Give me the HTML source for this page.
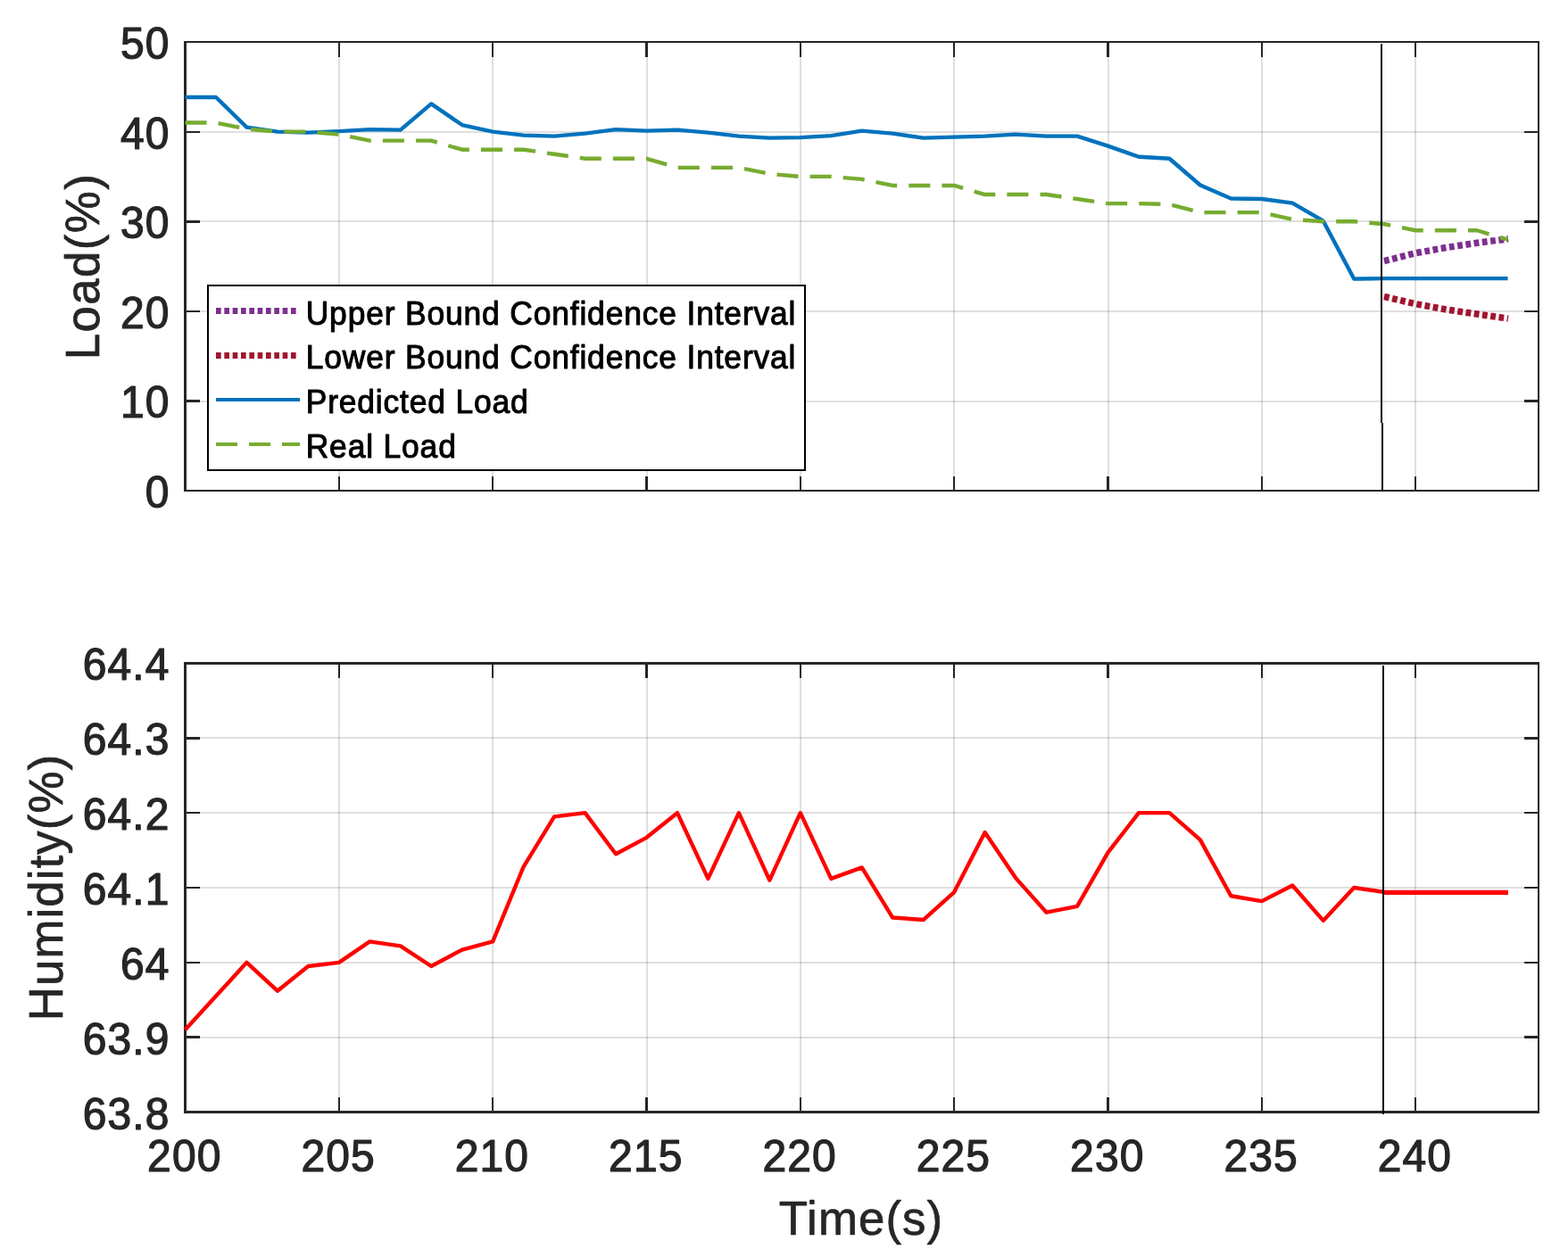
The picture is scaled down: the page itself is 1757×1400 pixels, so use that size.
<!DOCTYPE html>
<html lang="en"><head><meta charset="utf-8"><title>Load and Humidity</title>
<style>html,body{margin:0;padding:0;background:#fff}body{width:1757px;height:1400px;overflow:hidden}svg{display:block}text{font-family:"Liberation Sans",sans-serif;stroke-linejoin:round}.tk{font-size:48px;letter-spacing:1.1px;fill:#262626;stroke:#262626;stroke-width:1.2px}.lb{font-size:52.8px;letter-spacing:1.1px;fill:#262626;stroke:#262626;stroke-width:.7px}.lg{font-size:35.4px;letter-spacing:.85px;fill:#000;stroke:#000;stroke-width:1px}.cr{shape-rendering:crispEdges}</style>
</head><body>
<svg width="1757" height="1400" viewBox="0 0 1757 1400">
<rect width="1757" height="1400" fill="#fff"/>
<g class="cr" fill="#262626" fill-opacity=".15">
<rect x="379" y="47" width="2" height="503"/>
<rect x="551" y="47" width="2" height="503"/>
<rect x="724" y="47" width="2" height="503"/>
<rect x="896" y="47" width="2" height="503"/>
<rect x="1068" y="47" width="2" height="503"/>
<rect x="1241" y="47" width="2" height="503"/>
<rect x="1413" y="47" width="2" height="503"/>
<rect x="1585" y="47" width="2" height="503"/>
<rect x="208" y="449" width="1516" height="2"/>
<rect x="208" y="348" width="1516" height="2"/>
<rect x="208" y="247" width="1516" height="2"/>
<rect x="208" y="147" width="1516" height="2"/>
</g>
<polyline points="1550.97,292.56 1586.14,283.71 1620.60,277.47 1655.07,272.24 1689.93,267.82" fill="none" stroke="#7E2F8E" stroke-width="7.5" stroke-dasharray="5.8 3.53" stroke-linejoin="round"/>
<polyline points="1550.97,332.40 1586.14,340.65 1620.60,346.99 1655.07,352.02 1689.93,357.05" fill="none" stroke="#A2142F" stroke-width="7.5" stroke-dasharray="5.8 3.53" stroke-linejoin="round"/>
<g class="cr" fill="#262626">
<rect x="379" y="48" width="2" height="16"/>
<rect x="379" y="534" width="2" height="15"/>
<rect x="551" y="48" width="2" height="16"/>
<rect x="551" y="534" width="2" height="15"/>
<rect x="723" y="48" width="3" height="16"/>
<rect x="723" y="534" width="3" height="15"/>
<rect x="896" y="48" width="2" height="16"/>
<rect x="896" y="534" width="2" height="15"/>
<rect x="1068" y="48" width="2" height="16"/>
<rect x="1068" y="534" width="2" height="15"/>
<rect x="1240" y="48" width="3" height="16"/>
<rect x="1240" y="534" width="3" height="15"/>
<rect x="1413" y="48" width="2" height="16"/>
<rect x="1413" y="534" width="2" height="15"/>
<rect x="1585" y="48" width="2" height="16"/>
<rect x="1585" y="534" width="2" height="15"/>
<rect x="209" y="448" width="15" height="3"/>
<rect x="1708" y="448" width="15" height="3"/>
<rect x="209" y="348" width="15" height="2"/>
<rect x="1708" y="348" width="15" height="2"/>
<rect x="209" y="247" width="15" height="3"/>
<rect x="1708" y="247" width="15" height="3"/>
<rect x="209" y="147" width="15" height="2"/>
<rect x="1708" y="147" width="15" height="2"/>
<rect x="206" y="46" width="3" height="505"/>
<rect x="1723" y="46" width="2" height="505"/>
<rect x="206" y="46" width="1519" height="2"/>
<rect x="206" y="549" width="1519" height="2"/>
</g>
<polyline points="207.50,108.97 241.97,108.97 276.43,142.57 310.90,147.60 345.36,148.61 379.83,147.10 414.30,145.08 448.76,145.59 483.23,116.41 517.69,140.06 552.16,147.60 586.62,151.62 621.09,152.63 655.56,149.61 690.02,145.08 724.49,146.59 758.95,145.59 793.42,148.61 827.89,152.63 862.35,154.64 896.82,154.14 931.28,152.13 965.75,146.59 1000.22,149.61 1034.68,154.64 1069.15,153.64 1103.61,152.63 1138.08,150.62 1172.55,152.63 1207.01,152.63 1241.48,163.70 1275.94,175.77 1310.41,177.78 1344.88,207.46 1379.34,222.55 1413.81,223.05 1448.27,227.58 1482.74,247.70 1517.20,312.58 1551.67,312.08 1586.14,312.08 1620.60,312.08 1655.07,312.08 1689.53,312.08" fill="none" stroke="#0072BD" stroke-width="4.4" stroke-linejoin="round"/>
<polyline points="207.50,137.54 241.97,137.54 276.43,144.58 310.90,147.60 345.36,147.60 379.83,150.62 414.30,157.66 448.76,157.66 483.23,157.66 517.69,167.72 552.16,167.72 586.62,167.72 621.09,172.75 655.56,177.78 690.02,177.78 724.49,177.78 758.95,187.84 793.42,187.84 827.89,187.84 862.35,194.88 896.82,197.90 931.28,197.90 965.75,200.92 1000.22,207.96 1034.68,207.96 1069.15,207.96 1103.61,218.02 1138.08,218.02 1172.55,218.02 1207.01,223.05 1241.48,228.08 1275.94,228.08 1310.41,229.09 1344.88,238.14 1379.34,238.14 1413.81,238.14 1448.27,245.99 1482.74,248.20 1517.20,248.20 1551.67,251.22 1586.14,258.26 1620.60,258.26 1655.07,258.26 1689.53,268.62" fill="none" stroke="#77AC30" stroke-width="4.4" stroke-dasharray="24.1 13.07" stroke-linejoin="round"/>
<g class="cr">
<rect x="1547" y="49" width="2" height="424.5" fill="#000"/>
<rect x="1548" y="473.5" width="2" height="77.5" fill="#000"/>
</g>
<text class="tk" transform="translate(190.60 569.20) scale(1 1.025)" text-anchor="end">0</text>
<text class="tk" transform="translate(190.60 468.20) scale(1 1.025)" text-anchor="end">10</text>
<text class="tk" transform="translate(190.60 368.20) scale(1 1.025)" text-anchor="end">20</text>
<text class="tk" transform="translate(190.60 267.20) scale(1 1.025)" text-anchor="end">30</text>
<text class="tk" transform="translate(190.60 167.20) scale(1 1.025)" text-anchor="end">40</text>
<text class="tk" transform="translate(190.60 66.20) scale(1 1.025)" text-anchor="end">50</text>
<text class="lb" style="letter-spacing:1.4px" transform="translate(111.3 298.5) rotate(-90) scale(1 1.03)" text-anchor="middle">Load(%)</text>
<g class="cr">
<rect x="232" y="319" width="671" height="209" fill="#000"/>
<rect x="234" y="321" width="667" height="205" fill="#fff"/>
</g>
<line x1="242" y1="348.5" x2="332" y2="348.5" stroke="#7E2F8E" stroke-width="7" stroke-dasharray="5.67 3.66"/>
<line x1="242" y1="398.5" x2="332" y2="398.5" stroke="#A2142F" stroke-width="7" stroke-dasharray="5.67 3.66"/>
<line x1="242" y1="448.0" x2="336" y2="448.0" stroke="#0072BD" stroke-width="4"/>
<line x1="242" y1="498.0" x2="336" y2="498.0" stroke="#77AC30" stroke-width="4" stroke-dasharray="24 13"/>
<text class="lg" transform="translate(342.7 363.5) scale(1 1.05)">Upper Bound Confidence Interval</text>
<text class="lg" transform="translate(342.7 413.2) scale(1 1.05)">Lower Bound Confidence Interval</text>
<text class="lg" transform="translate(342.7 463.0) scale(1 1.05)">Predicted Load</text>
<text class="lg" transform="translate(342.7 512.9) scale(1 1.05)">Real Load</text>
<g class="cr" fill="#262626" fill-opacity=".15">
<rect x="379" y="743.5" width="2" height="503"/>
<rect x="551" y="743.5" width="2" height="503"/>
<rect x="724" y="743.5" width="2" height="503"/>
<rect x="896" y="743.5" width="2" height="503"/>
<rect x="1068" y="743.5" width="2" height="503"/>
<rect x="1241" y="743.5" width="2" height="503"/>
<rect x="1413" y="743.5" width="2" height="503"/>
<rect x="1585" y="743.5" width="2" height="503"/>
<rect x="208" y="1162" width="1516" height="2"/>
<rect x="208" y="1078" width="1516" height="2"/>
<rect x="208" y="994" width="1516" height="2"/>
<rect x="208" y="910" width="1516" height="2"/>
<rect x="208" y="826" width="1516" height="2"/>
</g>
<g class="cr" fill="#262626">
<rect x="379" y="745" width="2" height="15"/>
<rect x="379" y="1230" width="2" height="15"/>
<rect x="551" y="745" width="2" height="15"/>
<rect x="551" y="1230" width="2" height="15"/>
<rect x="723" y="745" width="3" height="15"/>
<rect x="723" y="1230" width="3" height="15"/>
<rect x="896" y="745" width="2" height="15"/>
<rect x="896" y="1230" width="2" height="15"/>
<rect x="1068" y="745" width="2" height="15"/>
<rect x="1068" y="1230" width="2" height="15"/>
<rect x="1240" y="745" width="3" height="15"/>
<rect x="1240" y="1230" width="3" height="15"/>
<rect x="1413" y="745" width="2" height="15"/>
<rect x="1413" y="1230" width="2" height="15"/>
<rect x="1585" y="745" width="2" height="15"/>
<rect x="1585" y="1230" width="2" height="15"/>
<rect x="209" y="1161" width="15" height="3"/>
<rect x="1708" y="1161" width="15" height="3"/>
<rect x="209" y="1078" width="15" height="2"/>
<rect x="1708" y="1078" width="15" height="2"/>
<rect x="209" y="994" width="15" height="2"/>
<rect x="1708" y="994" width="15" height="2"/>
<rect x="209" y="910" width="15" height="2"/>
<rect x="1708" y="910" width="15" height="2"/>
<rect x="209" y="826" width="15" height="3"/>
<rect x="1708" y="826" width="15" height="3"/>
<rect x="206" y="742" width="3" height="506"/>
<rect x="1723" y="742" width="2" height="506"/>
<rect x="206" y="742" width="1519" height="3"/>
<rect x="206" y="1245" width="1519" height="3"/>
</g>
<polyline points="207.50,1154.28 241.97,1116.56 276.43,1078.83 310.90,1110.69 345.36,1083.02 379.83,1078.83 414.30,1055.36 448.76,1060.39 483.23,1083.02 517.69,1064.58 552.16,1055.36 586.62,971.53 621.09,915.36 655.56,911.17 690.02,957.28 724.49,938.83 758.95,911.17 793.42,984.94 827.89,911.17 862.35,986.62 896.82,911.17 931.28,984.94 965.75,972.37 1000.22,1028.53 1034.68,1031.05 1069.15,1000.03 1103.61,932.96 1138.08,984.10 1172.55,1022.67 1207.01,1015.96 1241.48,955.60 1275.94,911.17 1310.41,911.17 1344.88,941.35 1379.34,1004.22 1413.81,1010.09 1448.27,992.49 1482.74,1031.89 1517.20,995.00 1551.67,1000.03 1586.14,1000.03 1620.60,1000.03 1655.07,1000.03 1689.53,1000.03" fill="none" stroke="#FF0000" stroke-width="4.4" stroke-linejoin="round"/>
<g class="cr">
<rect x="1551" y="998" width="139" height="5" fill="#FF0000"/>
<rect x="1549" y="746" width="2" height="503" fill="#000"/>
</g>
<text class="tk" transform="translate(190.60 1266.00) scale(1 1.025)" text-anchor="end">63.8</text>
<text class="tk" transform="translate(190.60 1182.00) scale(1 1.025)" text-anchor="end">63.9</text>
<text class="tk" transform="translate(190.60 1098.00) scale(1 1.025)" text-anchor="end">64</text>
<text class="tk" transform="translate(190.60 1014.00) scale(1 1.025)" text-anchor="end">64.1</text>
<text class="tk" transform="translate(190.60 930.00) scale(1 1.025)" text-anchor="end">64.2</text>
<text class="tk" transform="translate(190.60 846.00) scale(1 1.025)" text-anchor="end">64.3</text>
<text class="tk" transform="translate(190.60 762.00) scale(1 1.025)" text-anchor="end">64.4</text>
<text class="tk" transform="translate(206.80 1313.30) scale(1 1.025)" text-anchor="middle">200</text>
<text class="tk" transform="translate(379.13 1313.30) scale(1 1.025)" text-anchor="middle">205</text>
<text class="tk" transform="translate(551.46 1313.30) scale(1 1.025)" text-anchor="middle">210</text>
<text class="tk" transform="translate(723.79 1313.30) scale(1 1.025)" text-anchor="middle">215</text>
<text class="tk" transform="translate(896.12 1313.30) scale(1 1.025)" text-anchor="middle">220</text>
<text class="tk" transform="translate(1068.45 1313.30) scale(1 1.025)" text-anchor="middle">225</text>
<text class="tk" transform="translate(1240.78 1313.30) scale(1 1.025)" text-anchor="middle">230</text>
<text class="tk" transform="translate(1413.11 1313.30) scale(1 1.025)" text-anchor="middle">235</text>
<text class="tk" transform="translate(1585.44 1313.30) scale(1 1.025)" text-anchor="middle">240</text>
<text class="lb" transform="translate(70 994.5) rotate(-90) scale(1 1.03)" text-anchor="middle">Humidity(%)</text>
<text class="lb" transform="translate(965 1384) scale(1 1.03)" text-anchor="middle">Time(s)</text>
</svg>
</body></html>
